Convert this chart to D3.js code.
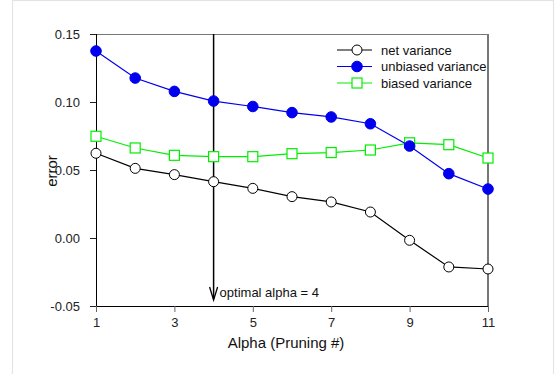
<!DOCTYPE html>
<html><head><meta charset="utf-8">
<script src="https://cdn.jsdelivr.net/npm/d3@7"></script>
<style>body{margin:0;background:#fff}svg{display:block}</style>
</head><body>
<script>
const alphas = [1,2,3,4,5,6,7,8,9,10,11];
const netVariance = [0.0623,0.0512,0.0466,0.0414,0.0365,0.0304,0.0265,0.0191,-0.0017,-0.0213,-0.0228];
const unbiasedVariance = [0.1375,0.1176,0.1078,0.1007,0.0967,0.0922,0.0890,0.0840,0.0676,0.0473,0.0360];
const biasedVariance = [0.0748,0.0662,0.0608,0.0598,0.0598,0.0620,0.0628,0.0647,0.0700,0.0686,0.0588];
const xTicks = [1,3,5,7,9,11];
const yTicks = [-0.05,0,0.05,0.10,0.15];
const seriesNames = ["net variance","unbiased variance","biased variance"];
const optimalAlpha = 4;

const W = 559, H = 374;
const svg = d3.select("body").append("svg").attr("width", W).attr("height", H);
const font = "Liberation Sans, Arial, sans-serif";

// page frame
svg.append("rect").attr("x",12.5).attr("y",0.5).attr("width",541).attr("height",H+5)
  .attr("fill","none").attr("stroke","#e4e4e4").attr("stroke-width",1.2);

const x = d3.scaleLinear().domain([1,11]).range([96,488]);
const y = d3.scaleLinear().domain([-0.05,0.15]).range([306,34]);

// top & right frame
svg.append("line").attr("x1",96).attr("x2",488).attr("y1",34.5).attr("y2",34.5).attr("stroke","#777").attr("stroke-width",1.2);
svg.append("line").attr("x1",488).attr("x2",488).attr("y1",34).attr("y2",306).attr("stroke","#777").attr("stroke-width",2);

// axes
const xAxis = d3.axisBottom(x).tickValues(xTicks).tickFormat(d3.format("d")).tickSizeInner(6).tickSizeOuter(0).tickPadding(6);
const gx = svg.append("g").attr("transform","translate(0,306)").call(xAxis);
gx.select(".domain").attr("stroke","#000").attr("d","M90,0.5H488");
gx.selectAll(".tick line").attr("stroke","#666");
gx.selectAll("text").attr("font-family",font).attr("font-size",13).attr("fill","#222");

const fmtY = d => d3.format(".2f")(d).replace("\u2212","-");
const yAxis = d3.axisLeft(y).tickValues(yTicks).tickFormat(fmtY).tickSizeInner(6).tickSizeOuter(0).tickPadding(10);
const gy = svg.append("g").attr("transform","translate(96,0)").call(yAxis);
gy.select(".domain").attr("stroke","#000").attr("d","M0.5,34V306");
gy.selectAll(".tick line").attr("stroke","#222");
gy.selectAll("text").attr("font-family",font).attr("font-size",13).attr("fill","#222");

// axis titles
svg.append("text").attr("x",286).attr("y",348).attr("text-anchor","middle")
  .attr("font-family",font).attr("font-size",15).attr("fill","#111").text("Alpha (Pruning #)");
svg.append("text").attr("transform","translate(57,171) rotate(-90)").attr("text-anchor","middle")
  .attr("font-family",font).attr("font-size",15).attr("fill","#111").text("error");

// optimal arrow
const ax = x(optimalAlpha);
svg.append("line").attr("x1",ax).attr("x2",ax).attr("y1",34).attr("y2",299).attr("stroke","#000").attr("stroke-width",1.5);
svg.append("path").attr("d",`M${ax-4},${287}L${ax},${300}L${ax+4},${287}`).attr("fill","none").attr("stroke","#000").attr("stroke-width",1.3);
svg.append("text").attr("x",ax+6).attr("y",297).attr("font-family",font).attr("font-size",13).attr("fill","#111").text("optimal alpha = "+optimalAlpha);

const line = d3.line().x((d,i)=>x(alphas[i])).y(d=>y(d));

function drawSeries(vals, color, type){
  svg.append("path").datum(vals).attr("d",line).attr("fill","none").attr("stroke",color).attr("stroke-width",1.2);
  if(type==="square"){
    svg.selectAll(null).data(vals).enter().append("rect")
      .attr("x",(d,i)=>x(alphas[i])-5).attr("y",d=>y(d)-5).attr("width",10).attr("height",10)
      .attr("fill","#fff").attr("stroke",color).attr("stroke-width",1.2);
  } else {
    svg.selectAll(null).data(vals).enter().append("circle")
      .attr("cx",(d,i)=>x(alphas[i])).attr("cy",d=>y(d)).attr("r",type==="filled"?5.3:5)
      .attr("fill",type==="filled"?color:"#fff").attr("stroke",color).attr("stroke-width",1);
  }
}
drawSeries(biasedVariance,"#00ee00","square");
drawSeries(unbiasedVariance,"#0000ee","filled");
drawSeries(netVariance,"#000","open");

// legend
const leg = [{n:seriesNames[0],c:"#000",t:"open"},{n:seriesNames[1],c:"#0000ee",t:"filled"},{n:seriesNames[2],c:"#00ee00",t:"square"}];
leg.forEach((l,i)=>{
  const ly = 50 + i*16.5;
  svg.append("line").attr("x1",337).attr("x2",372).attr("y1",ly).attr("y2",ly).attr("stroke",l.c).attr("stroke-width",1.2);
  if(l.t==="square"){
    svg.append("rect").attr("x",352).attr("y",ly-5).attr("width",10).attr("height",10).attr("fill","#fff").attr("stroke",l.c).attr("stroke-width",1.2);
  } else {
    svg.append("circle").attr("cx",357).attr("cy",ly).attr("r",l.t==="filled"?5.3:5).attr("fill",l.t==="filled"?l.c:"#fff").attr("stroke",l.c);
  }
  svg.append("text").attr("x",381).attr("y",ly+4.5).attr("font-family",font).attr("font-size",13).attr("fill","#111").text(l.n);
});
</script>
</body></html>
